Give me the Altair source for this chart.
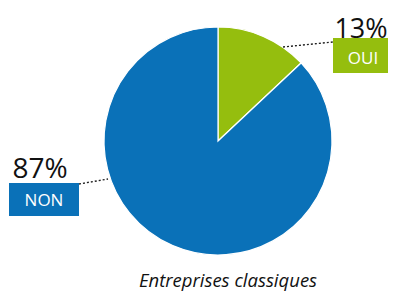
import altair as alt
import pandas as pd

categories = ["OUI", "NON"]
values = [13, 87]
pct_labels = ["13%", "87%"]
colors = ["#95BE0E", "#0A71B8"]
title_text = "Entreprises classiques"

df = pd.DataFrame({"cat": categories, "value": values, "order": [0, 1]})
FONT = "Open Sans"

pie = alt.Chart(df).mark_arc(stroke="white", strokeWidth=1.2, radius=114).encode(
    theta=alt.Theta("value:Q", stack=True),
    order=alt.Order("order:Q"),
    color=alt.Color("cat:N", scale=alt.Scale(domain=categories, range=colors), legend=None),
    x=alt.value(210), y=alt.value(133),
)

base = alt.Chart(pd.DataFrame({"a": [0]}))

def leader(x1, y1, x2, y2):
    return base.mark_rule(color="#222222", strokeWidth=1.4, strokeDash=[2, 2]).encode(
        x=alt.value(x1), y=alt.value(y1), x2=alt.value(x2), y2=alt.value(y2))

def box(x1, y1, x2, y2, col):
    return base.mark_rect(color=col).encode(
        x=alt.value(x1), y=alt.value(y1), x2=alt.value(x2), y2=alt.value(y2))

def txt(s, x, y, size, col, **kw):
    return base.mark_text(text=s, fontSize=size, color=col, font=FONT, align="center",
                          baseline="alphabetic", **kw).encode(x=alt.value(x), y=alt.value(y))

layers = [
    pie,
    leader(275, 39, 325, 34),
    leader(71, 176, 100, 171),
    box(325, 30, 388, 65, colors[0]),
    box(1, 175, 71, 208, colors[1]),
    txt(pct_labels[0], 353, 30, 27, "#111111"),
    txt(categories[0], 355, 56, 17, "white"),
    txt(pct_labels[1], 32, 170, 28, "#111111"),
    txt(categories[1], 36, 198, 17, "white"),
    txt(title_text, 220, 279, 18.5, "#111111", fontStyle="italic"),
]

chart = alt.layer(*layers).properties(
    width=380, height=285, autosize=alt.AutoSizeParams(type="none"), padding=0
).configure_view(stroke=None)

chart.save("out.html", embed_options={"renderer": "svg", "actions": False})
